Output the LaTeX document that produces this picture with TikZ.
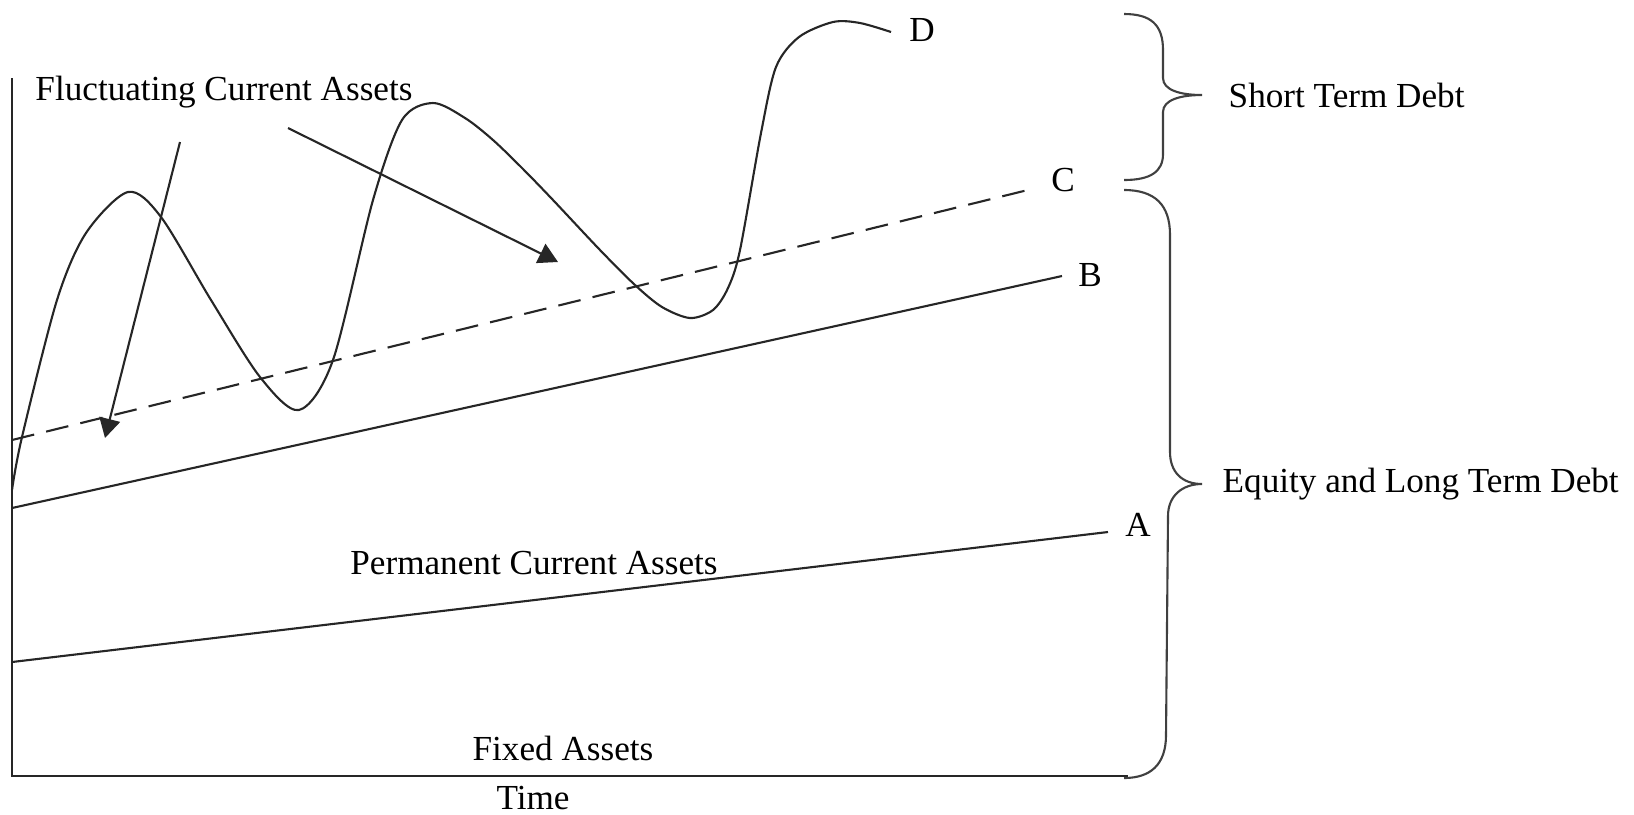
\documentclass[tikz,border=0pt]{standalone}
\usepackage{fontspec}
\setmainfont{Liberation Serif}
\usetikzlibrary{arrows.meta}
\begin{document}
\begin{tikzpicture}[x=0.01cm,y=-0.01cm,
  ln/.style={line width=0.6pt, black!85},
  axisln/.style={line width=0.7pt, black!85},
  dashln/.style={line width=0.6pt, black!85, dash pattern=on 6.5pt off 3.5pt},
  lbl/.style={font=\fontsize{10}{12}\selectfont, inner sep=0pt},
  arr/.style={ln, -{Triangle[length=5.5pt,width=6pt]}},
  brc/.style={line width=0.6pt, black!75}]
\useasboundingbox (0,0) rectangle (1634,814);

% axes
\coordinate (ytop) at (12,78);
\coordinate (orig) at (12,776);
\coordinate (xend) at (1128,776);
\draw[axisln] (ytop) -- (orig) -- (xend);

% labels
\node[lbl] (fca) at (224,92) {Fluctuating Current Assets};
\node[lbl] (pca) at (534,563) {Permanent Current Assets};
\node[lbl] (fa) at (563,748) {Fixed Assets};
\node[lbl] (time) at (533,798) {Time};
\node[lbl, anchor=west] (std) at (1228,95) {Short Term Debt};
\node[lbl, anchor=west] (eltd) at (1222,484) {Equity and Long Term Debt};
\node[lbl] (labD) at (922,30) {D};
\node[lbl] (labC) at (1063,180) {C};
\node[lbl] (labB) at (1090,275) {B};
\node[lbl] (labA) at (1138,525) {A};

% line A
\coordinate (a0) at (12,662);
\coordinate (a1) at (1108,532);
\draw[ln] (a0) -- (a1);
% line B
\coordinate (b0) at (12,508);
\coordinate (b1) at (1062,276);
\draw[ln] (b0) -- (b1);
% line C (dashed)
\coordinate (c0) at (12,440);
\coordinate (c1) at (1036,188);
\draw[dashln] (c0) -- (c1);

% curve D
\draw[ln] plot[smooth, tension=0.5] coordinates {
 (12,490) (22,437) (57,300) (86,233) (128,192) (161,217) (211,300) (260,377)
 (299,410) (333,360) (373,200) (402,120) (433,103) (465,118) (493,140) (523,169)
 (553,200) (600,250) (635,285) (662,307) (690,318) (713,310) (728,288) (740,250)
 (761,133) (776,67) (799,37) (833,22) (860,23) (891,32)};

% arrows
\coordinate (r1s) at (180,142);
\coordinate (r1e) at (105,438);
\draw[arr] (r1s) -- (r1e);
\coordinate (r2s) at (288,128);
\coordinate (r2e) at (558,262);
\draw[arr] (r2s) -- (r2e);

% upper brace
\draw[brc] (1124,14) .. controls (1150,14) and (1163,24) .. (1163,50)
  -- (1163,78) .. controls (1163,90) and (1180,95) .. (1202,95)
  .. controls (1180,95) and (1163,100) .. (1163,112)
  -- (1163,154) .. controls (1163,172) and (1150,180) .. (1124,180);
% lower brace
\draw[brc] (1124,190) .. controls (1155,190) and (1170,205) .. (1170,235)
  -- (1170,452) .. controls (1170,472) and (1182,484) .. (1202,484)
  .. controls (1182,484) and (1168,496) .. (1168,516)
  -- (1166,735) .. controls (1166,765) and (1150,778) .. (1124,778);
\end{tikzpicture}
\end{document}
